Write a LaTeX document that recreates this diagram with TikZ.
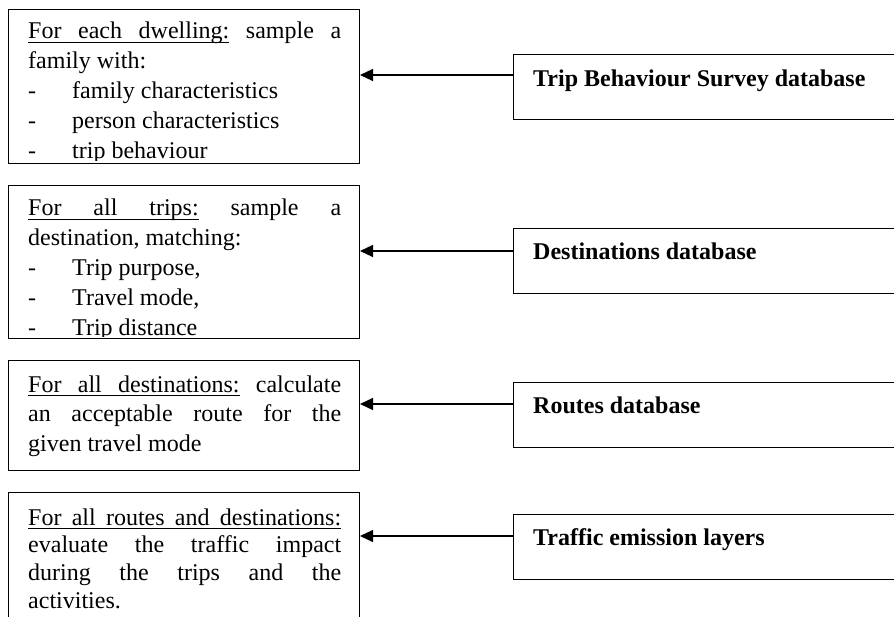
\documentclass[tikz,border=0pt]{standalone}
\usepackage{fontspec}
\setmainfont{Liberation Serif}
\usetikzlibrary{arrows.meta}
\newcommand{\jusline}[1]{\hbox to 313pt{#1}}
\newcommand{\itemline}[1]{\hbox{\hbox to 44pt{-\hfil}#1}}
\newcommand{\plainline}[1]{\hbox{#1}}
\newcommand{\js}{\hskip\fontdimen2\font plus 1fil\relax}
\newcommand{\ujs}{\leaders\hrule height -3pt depth 4pt\hskip\fontdimen2\font plus 1fil\relax}
\newcommand{\ulw}[1]{\setbox0\hbox{#1}\rlap{\vrule height -3pt depth 4pt width\wd0}\box0}
\begin{document}
\begin{tikzpicture}[x=1pt,y=-1pt,
  lbox/.style={draw, line width=1pt, inner sep=0pt, minimum width=351pt, anchor=north west},
  rbox/.style={draw, line width=1pt, inner sep=0pt, minimum width=390pt, minimum height=65pt, anchor=north west},
  ltext/.style={anchor=base west, inner sep=0pt, font=\fontsize{24}{30}\selectfont},
  rtext/.style={anchor=base west, inner sep=0pt, font=\bfseries\fontsize{24}{28}\selectfont},
  arr/.style={line width=1.2pt, -{Triangle[length=13pt,width=12pt]}}]
\useasboundingbox (0,0) rectangle (894,616);

% left boxes
\node[lbox, minimum height=154pt] (lb1) at (8,9) {};
\node[lbox, minimum height=153pt] (lb2) at (8,185) {};
\node[lbox, minimum height=110pt] (lb3) at (8,360) {};
\node[lbox, minimum height=150pt] (lb4) at (8,492) {};

\begin{scope}
\clip (8,9) rectangle (359,160.5);
\node[ltext] (t1) at (28,38.5) {\vtop{%
  \jusline{\ulw{For}\ujs\ulw{each}\ujs\ulw{dwelling:}\js sample\js a}
  \plainline{family with:}
  \itemline{family characteristics}
  \itemline{person characteristics}
  \itemline{trip behaviour}}};
\end{scope}

\begin{scope}
\clip (8,185) rectangle (359,336);
\node[ltext] (t2) at (28,215.5) {\vtop{%
  \jusline{\ulw{For}\ujs\ulw{all}\ujs\ulw{trips:}\js sample\js a}
  \plainline{destination, matching:}
  \itemline{Trip purpose,}
  \itemline{Travel mode,}
  \itemline{Trip distance}}};
\end{scope}

\node[ltext, font=\fontsize{24}{29.5}\selectfont] (t3) at (28,392) {\vtop{%
  \jusline{\ulw{For}\ujs\ulw{all}\ujs\ulw{destinations:}\js calculate}
  \jusline{an\js acceptable\js route\js for\js the}
  \plainline{given travel mode}}};

\node[ltext, font=\fontsize{24}{27.7}\selectfont] (t4) at (28,525) {\vtop{%
  \jusline{\ulw{For}\ujs\ulw{all}\ujs\ulw{routes}\ujs\ulw{and}\ujs\ulw{destinations:}}
  \jusline{evaluate\js the\js traffic\js impact}
  \jusline{during\js the\js trips\js and\js the}
  \plainline{activities.}}};

% right boxes
\node[rbox] (rb1) at (513,54) {};
\node[rbox] (rb2) at (513,228) {};
\node[rbox] (rb3) at (513,382) {};
\node[rbox] (rb4) at (513,514) {};

\node[rtext] (r1) at (533,86) {Trip Behaviour Survey database};
\node[rtext] (r2) at (533,259) {Destinations database};
\node[rtext] (r3) at (533,413) {Routes database};
\node[rtext] (r4) at (533,545) {Traffic emission layers};

% connectors
\coordinate (a1) at ([yshift=-21pt]rb1.north west);
\coordinate (a2) at ([yshift=-23pt]rb2.north west);
\coordinate (a3) at ([yshift=-22pt]rb3.north west);
\coordinate (a4) at ([yshift=-22pt]rb4.north west);
\draw[arr] (a1) -- (a1 -| lb1.east);
\draw[arr] (a2) -- (a2 -| lb2.east);
\draw[arr] (a3) -- (a3 -| lb3.east);
\draw[arr] (a4) -- (a4 -| lb4.east);
\end{tikzpicture}
\end{document}
